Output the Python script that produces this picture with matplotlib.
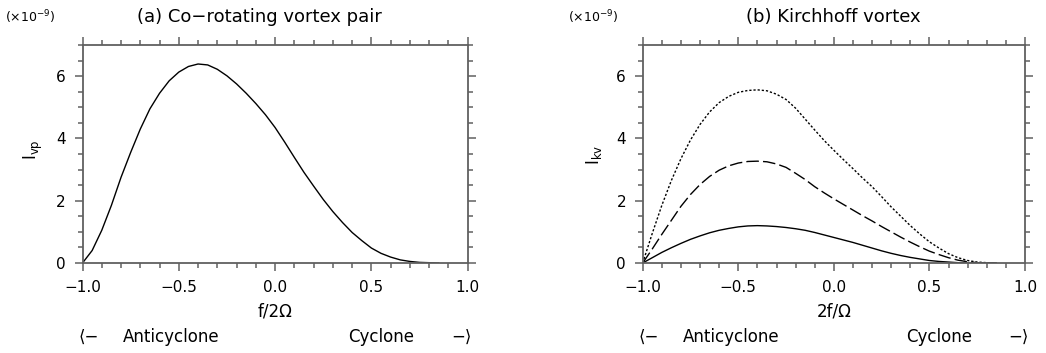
import matplotlib
matplotlib.use("Agg")
import matplotlib.pyplot as plt
from matplotlib.ticker import MultipleLocator

# x grid (f/2Ω and 2f/Ω)
x_vals = [-1.00, -0.95, -0.90, -0.85, -0.80, -0.75, -0.70, -0.65, -0.60, -0.55,
          -0.50, -0.45, -0.40, -0.35, -0.30, -0.25, -0.20, -0.15, -0.10, -0.05,
          0.00, 0.05, 0.10, 0.15, 0.20, 0.25, 0.30, 0.35, 0.40, 0.45,
          0.50, 0.55, 0.60, 0.65, 0.70, 0.75, 0.80, 0.85]

# (a) co-rotating vortex pair, units of 1e-9
i_vp = [0.00, 0.40, 1.05, 1.85, 2.75, 3.55, 4.30, 4.95, 5.45, 5.85,
        6.13, 6.31, 6.39, 6.36, 6.22, 6.01, 5.75, 5.45, 5.12, 4.76,
        4.35, 3.88, 3.39, 2.91, 2.47, 2.04, 1.65, 1.30, 0.98, 0.72,
        0.48, 0.31, 0.19, 0.10, 0.05, 0.02, 0.01, 0.00]

# (b) Kirchhoff vortex, three cases
i_kv_solid = [0.00, 0.17, 0.34, 0.49, 0.63, 0.76, 0.87, 0.97, 1.05, 1.11,
              1.16, 1.19, 1.20, 1.19, 1.17, 1.14, 1.10, 1.05, 0.98, 0.90,
              0.82, 0.74, 0.66, 0.57, 0.48, 0.39, 0.31, 0.24, 0.18, 0.13,
              0.08, 0.05, 0.03, 0.01, 0.00, 0.00, 0.00, 0.00]
i_kv_dashed = [0.00, 0.45, 0.92, 1.37, 1.82, 2.20, 2.52, 2.78, 2.98, 3.12,
               3.21, 3.26, 3.27, 3.25, 3.18, 3.07, 2.88, 2.68, 2.45, 2.25,
               2.06, 1.88, 1.70, 1.52, 1.35, 1.17, 1.00, 0.83, 0.67, 0.52,
               0.38, 0.27, 0.17, 0.09, 0.04, 0.01, 0.00, 0.00]
i_kv_dotted = [0.00, 0.95, 1.85, 2.65, 3.35, 3.95, 4.45, 4.85, 5.15, 5.35,
               5.48, 5.54, 5.56, 5.53, 5.42, 5.25, 4.97, 4.62, 4.27, 3.93,
               3.62, 3.32, 3.03, 2.73, 2.45, 2.13, 1.80, 1.50, 1.20, 0.93,
               0.68, 0.48, 0.30, 0.17, 0.08, 0.03, 0.01, 0.00]

x_ticks = [-1.0, -0.5, 0.0, 0.5, 1.0]
x_tick_labels = ["\u22121.0", "\u22120.5", "0.0", "0.5", "1.0"]
y_ticks = [0, 2, 4, 6]

W, H = 1046, 353
fig = plt.figure(figsize=(W / 100, H / 100), dpi=100)
frame_color = "#606060"


def style_axes(ax):
    ax.set_xlim(-1, 1)
    ax.set_ylim(0, 7)
    ax.set_xticks(x_ticks)
    ax.set_xticklabels(x_tick_labels)
    ax.set_yticks(y_ticks)
    ax.xaxis.set_minor_locator(MultipleLocator(0.1))
    ax.yaxis.set_minor_locator(MultipleLocator(0.5))
    ax.tick_params(which="both", direction="out", top=True, right=True,
                   color=frame_color, width=1.1, labelsize=11, pad=6)
    ax.tick_params(which="major", length=6)
    ax.tick_params(which="minor", length=3.5)
    for spine in ax.spines.values():
        spine.set_color(frame_color)
        spine.set_linewidth(1.3)


def px(x0, y0, x1, y1):
    return [x0 / W, 1 - y1 / H, (x1 - x0) / W, (y1 - y0) / H]


ax_a = fig.add_axes(px(82.5, 45, 467.7, 263))
ax_b = fig.add_axes(px(642.7, 45, 1025, 263))

ax_a.plot(x_vals, i_vp, color="black", lw=1.0)
ax_b.plot(x_vals, i_kv_solid, color="black", lw=1.0)
ax_b.plot(x_vals, i_kv_dashed, color="black", lw=1.0, dashes=(9, 3))
ax_b.plot(x_vals, i_kv_dotted, color="black", lw=1.0, dashes=(1.6, 1.4))

for ax in (ax_a, ax_b):
    style_axes(ax)

# titles and scale labels
fig.text(259 / W, 1 - 17 / H, "(a) Co\u2212rotating vortex pair", ha="center", va="center", fontsize=13)
fig.text(833 / W, 1 - 17 / H, "(b) Kirchhoff vortex", ha="center", va="center", fontsize=13)
fig.text(5 / W, 1 - 17 / H, "(\u00d710$^{-9}$)", ha="left", va="center", fontsize=9)
fig.text(568 / W, 1 - 17 / H, "(\u00d710$^{-9}$)", ha="left", va="center", fontsize=9)

fig.text(33 / W, 1 - 150 / H, r"I$_{\rm vp}$", rotation=90, ha="center", va="center", fontsize=12)
fig.text(594 / W, 1 - 155 / H, r"I$_{\rm kv}$", rotation=90, ha="center", va="center", fontsize=12)

fig.text(275 / W, 1 - 312 / H, "f/2\u03a9", ha="center", va="center", fontsize=12)
fig.text(834 / W, 1 - 312 / H, "2f/\u03a9", ha="center", va="center", fontsize=12)

# cyclone / anticyclone direction labels under each panel
text_y = -0.34
for ax in (ax_a, ax_b):
    ax.text(-0.01, text_y, "\u27e8\u2212", transform=ax.transAxes, ha="left", va="center", fontsize=12)
    ax.text(0.105, text_y, "Anticyclone", transform=ax.transAxes, ha="left", va="center", fontsize=12)
    ax.text(0.862, text_y, "Cyclone", transform=ax.transAxes, ha="right", va="center", fontsize=12)
    ax.text(1.01, text_y, "\u2212\u27e9", transform=ax.transAxes, ha="right", va="center", fontsize=12)

fig.savefig("out.png", dpi=100)
